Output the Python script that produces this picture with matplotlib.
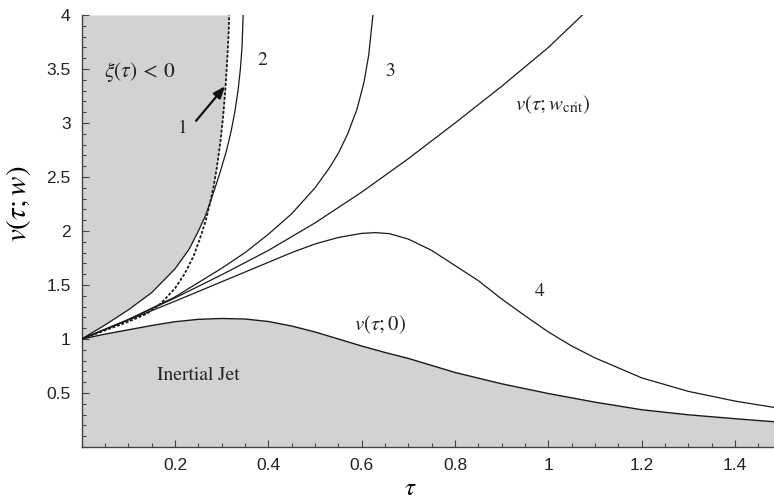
import numpy as np
import matplotlib
matplotlib.use("Agg")
import matplotlib.pyplot as plt
from matplotlib.ticker import MultipleLocator, FuncFormatter

# ---- data ----
# v(tau; 0)  -- upper edge of the "Inertial Jet" region
t0 = [0.0, 0.05, 0.1, 0.15, 0.2, 0.25, 0.3, 0.35, 0.4, 0.45, 0.5, 0.55, 0.6, 0.65,
      0.7, 0.8, 0.9, 1.0, 1.1, 1.2, 1.3, 1.4, 1.483]
v0 = [1.0, 1.045, 1.085, 1.125, 1.16, 1.182, 1.19, 1.185, 1.162, 1.12, 1.065, 1.0,
      0.935, 0.875, 0.82, 0.69, 0.585, 0.495, 0.415, 0.345, 0.298, 0.262, 0.234]

# curve 1 (dashed)
t1 = [0.0, 0.05, 0.1, 0.14, 0.17, 0.2, 0.22, 0.24, 0.255, 0.266, 0.275, 0.283, 0.29,
      0.297, 0.303, 0.308, 0.312, 0.3145, 0.316]
v1 = [1.0, 1.08, 1.16, 1.235, 1.33, 1.47, 1.60, 1.77, 1.95, 2.10, 2.26, 2.42, 2.60,
      2.82, 3.06, 3.32, 3.60, 3.80, 4.0]

# curve 2
t2 = [0.0, 0.05, 0.1, 0.15, 0.2, 0.23, 0.25, 0.265, 0.275, 0.285, 0.297, 0.31, 0.32,
      0.328, 0.335, 0.34, 0.3435, 0.346]
v2 = [1.0, 1.13, 1.27, 1.43, 1.65, 1.83, 2.0, 2.14, 2.26, 2.39, 2.55, 2.74, 2.92,
      3.10, 3.30, 3.50, 3.70, 4.0]

# curve 3
t3 = [0.0, 0.1, 0.2, 0.3, 0.35, 0.4, 0.45, 0.5, 0.53, 0.55, 0.57, 0.59, 0.605,
      0.615, 0.624]
v3 = [1.0, 1.18, 1.39, 1.655, 1.80, 1.97, 2.16, 2.40, 2.58, 2.72, 2.90, 3.13, 3.38,
      3.63, 4.0]

# v(tau; w_crit)
tc = [0.0, 0.1, 0.2, 0.3, 0.4, 0.5, 0.6, 0.7, 0.8, 0.9, 1.0, 1.073]
vc = [1.0, 1.18, 1.38, 1.595, 1.82, 2.075, 2.36, 2.67, 3.00, 3.34, 3.70, 4.0]

# curve 4
t4 = [0.0, 0.1, 0.2, 0.3, 0.4, 0.45, 0.5, 0.55, 0.6, 0.63, 0.66, 0.7, 0.75, 0.8,
      0.85, 0.9, 0.95, 1.0, 1.05, 1.1, 1.2, 1.3, 1.4, 1.483]
v4 = [1.0, 1.175, 1.35, 1.53, 1.71, 1.80, 1.88, 1.94, 1.978, 1.985, 1.975, 1.925,
      1.82, 1.68, 1.54, 1.37, 1.215, 1.065, 0.935, 0.825, 0.64, 0.515, 0.425, 0.367]

xticks = [0.2, 0.4, 0.6, 0.8, 1.0, 1.2, 1.4]
yticks = [0.5, 1.0, 1.5, 2.0, 2.5, 3.0, 3.5, 4.0]

# ---- figure ----
plt.rcParams['mathtext.fontset'] = 'stix'
fig = plt.figure(figsize=(7.74, 5.04), dpi=100)
ax = fig.add_axes([81.7 / 774, 57 / 504, 692.3 / 774, 432 / 504])

gray = '#d1d2d4'
lc = '#1a1a1a'

# shaded region xi(tau) < 0 : left of the leftmost of curves 1 and 2
yy = np.linspace(1.0, 4.0, 800)
xb = np.minimum(np.interp(yy, v1, t1), np.interp(yy, v2, t2))
ax.fill_betweenx(yy, 0, xb, color=gray, lw=0, zorder=1)
# inertial jet region
ax.fill_between(t0, 0, v0, color=gray, lw=0, zorder=1)

ax.plot(t0, v0, color=lc, lw=1.0, zorder=3)
ax.plot(t2, v2, color=lc, lw=0.9, zorder=3)
ax.plot(t3, v3, color=lc, lw=0.9, zorder=3)
ax.plot(tc, vc, color=lc, lw=0.9, zorder=3)
ax.plot(t4, v4, color=lc, lw=0.9, zorder=3)
ax.plot(t1, v1, color=lc, lw=1.3, ls=(0, (1.6, 1.0)), zorder=4)

ax.set_xlim(0, 1.4834)
ax.set_ylim(0, 4)

for s in ['top', 'right']:
    ax.spines[s].set_visible(False)
for s in ['left', 'bottom']:
    ax.spines[s].set_color('#444444')
    ax.spines[s].set_linewidth(1.0)

ax.set_xticks(xticks)
ax.set_yticks(yticks)
ax.xaxis.set_minor_locator(MultipleLocator(0.05))
ax.yaxis.set_minor_locator(MultipleLocator(0.1))
fmt = FuncFormatter(lambda v, p: f"{v:g}")
ax.xaxis.set_major_formatter(fmt)
ax.yaxis.set_major_formatter(fmt)
ax.tick_params(which='both', direction='in', color='#444444', width=0.8)
ax.tick_params(which='major', length=5)
ax.tick_params(which='minor', length=3)
ax.tick_params(axis='x', which='major', pad=8)
ax.tick_params(axis='y', which='major', pad=8)
for lab in ax.get_xticklabels() + ax.get_yticklabels():
    lab.set_fontfamily('Liberation Sans')
    lab.set_fontsize(12.5)
    lab.set_color('#222222')

ax.set_xlabel(r'$\tau$', fontsize=18)
ax.xaxis.label.set_va('center')
ax.xaxis.set_label_coords(0.474, -0.096)
ax.set_ylabel(r'$v(\tau;w)$', fontsize=21)
ax.yaxis.label.set_va('center')
ax.yaxis.label.set_ha('center')
ax.yaxis.set_label_coords(-0.091, 0.562)

tf = dict(fontfamily='STIXGeneral', color='#222222', ha='center', va='center', zorder=5)
ax.text(0.125, 3.47, r'$\xi(\tau)\,<\,0$', fontsize=15.5, **tf)
ax.text(0.386, 3.58, '2', fontsize=14, **tf)
ax.text(0.661, 3.48, '3', fontsize=14, **tf)
ax.text(0.216, 2.95, '1', fontsize=14, **tf)
ax.text(0.982, 1.44, '4', fontsize=14, **tf)
ax.text(1.010, 3.17, r'$v(\tau;w_{\rm crit})$', fontsize=15, **tf)
ax.text(0.639, 1.13, r'$v(\tau;0)$', fontsize=15, **tf)
ax.text(0.25, 0.667, 'Inertial Jet', fontsize=14, **tf)

ax.annotate('', xy=(0.307, 3.34), xytext=(0.245, 3.02),
            arrowprops=dict(arrowstyle='-|>,head_length=0.7,head_width=0.28',
                            color='#111111', lw=1.6, shrinkA=0, shrinkB=0), zorder=6)

fig.savefig('out.png', dpi=100)
